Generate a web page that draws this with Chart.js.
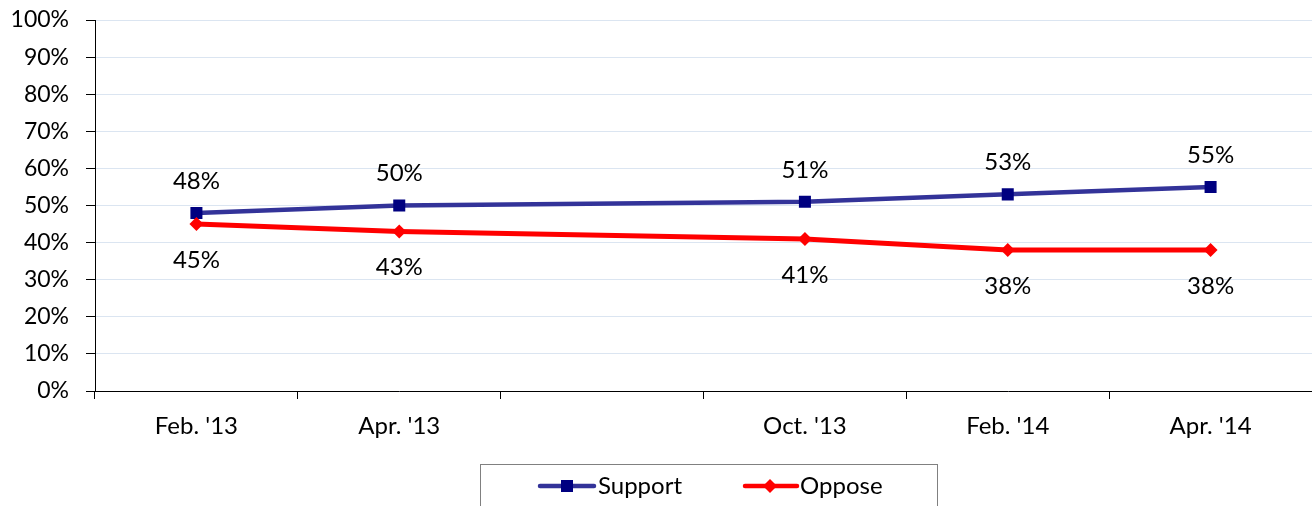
<!DOCTYPE html>
<html>
<head>
<meta charset="utf-8">
<script src="https://cdn.jsdelivr.net/npm/chart.js@4"></script>
<style>
    html, body { margin: 0; padding: 0; background: #fff; }
    #wrap { width: 1312px; height: 506px; }
</style>
</head>
<body>
<div id="wrap"><canvas id="chart"></canvas></div>
<script>
// dados
const categorias = ["Feb. '13", "Apr. '13", "", "Oct. '13", "Feb. '14", "Apr. '14"];
const support = [48, 50, null, 51, 53, 55];
const oppose = [45, 43, null, 41, 38, 38];
const yTicks = [0, 10, 20, 30, 40, 50, 60, 70, 80, 90, 100];

const FONTE = 'Lato, "Open Sans", sans-serif';
const COR_SUPPORT = '#333399';
const COR_SUPPORT_PONTO = '#000080';
const COR_OPPOSE = '#ff0000';

// rótulos de valor (acima para Support, abaixo para Oppose)
const rotulosPlugin = {
    id: 'rotulos',
    afterDatasetsDraw: (chart) => {
        const ctx = chart.ctx;
        ctx.save();
        ctx.font = '24px ' + FONTE;
        ctx.fillStyle = '#000';
        ctx.textAlign = 'center';
        ctx.textBaseline = 'middle';
        chart.data.datasets.forEach((ds, i) => {
            const meta = chart.getDatasetMeta(i);
            const desloc = ds.label === 'Support' ? -32 : 36;
            meta.data.forEach((pt, j) => {
                const v = ds.data[j];
                if (v === null || v === undefined) return;
                ctx.fillText(v + '%', pt.x, pt.y + desloc);
            });
        });
        ctx.restore();
    }
};

// legenda com caixa, linha + marcador
const legendaPlugin = {
    id: 'legendaCaixa',
    afterDraw: (chart) => {
        const ctx = chart.ctx;
        ctx.save();
        ctx.strokeStyle = '#808080';
        ctx.lineWidth = 1;
        ctx.strokeRect(480.5, 464.5, 457, 60);

        const cy = 486;
        // Support
        ctx.strokeStyle = COR_SUPPORT;
        ctx.lineWidth = 4.5;
        ctx.lineCap = 'round';
        ctx.beginPath(); ctx.moveTo(540, cy); ctx.lineTo(594, cy); ctx.stroke();
        ctx.fillStyle = COR_SUPPORT_PONTO;
        ctx.fillRect(561, cy - 6, 12, 12);
        // Oppose
        ctx.strokeStyle = COR_OPPOSE;
        ctx.beginPath(); ctx.moveTo(745, cy); ctx.lineTo(797, cy); ctx.stroke();
        ctx.fillStyle = COR_OPPOSE;
        ctx.beginPath();
        ctx.moveTo(770, cy - 7); ctx.lineTo(777, cy); ctx.lineTo(770, cy + 7); ctx.lineTo(763, cy);
        ctx.closePath(); ctx.fill();

        ctx.font = '24px ' + FONTE;
        ctx.fillStyle = '#000';
        ctx.textAlign = 'left';
        ctx.textBaseline = 'middle';
        ctx.fillText('Support', 598, cy);
        ctx.fillText('Oppose', 800, cy);
        ctx.restore();
    }
};

new Chart(document.getElementById('chart'), {
    type: 'line',
    data: {
        labels: categorias,
        datasets: [
            {
                label: 'Support',
                data: support,
                borderColor: COR_SUPPORT,
                backgroundColor: COR_SUPPORT_PONTO,
                borderWidth: 4.5,
                pointStyle: 'rect',
                pointRadius: 8.5,
                pointBorderWidth: 0,
                pointBackgroundColor: COR_SUPPORT_PONTO,
                spanGaps: true,
                tension: 0,
                order: 1
            },
            {
                label: 'Oppose',
                data: oppose,
                borderColor: COR_OPPOSE,
                backgroundColor: COR_OPPOSE,
                borderWidth: 5,
                pointStyle: 'rectRot',
                pointRadius: 7,
                pointBorderWidth: 0,
                pointBackgroundColor: COR_OPPOSE,
                spanGaps: true,
                tension: 0,
                order: 0
            }
        ]
    },
    options: {
        responsive: true,
        maintainAspectRatio: false,
        animation: false,
        layout: { autoPadding: false, padding: { top: 20, right: 0, bottom: 0, left: 0 } },
        plugins: {
            legend: { display: false },
            tooltip: { enabled: false }
        },
        scales: {
            x: {
                offset: true,
                grid: {
                    offset: true,
                    drawOnChartArea: false,
                    drawTicks: true,
                    tickLength: 8,
                    tickColor: '#000'
                },
                border: { display: true, color: '#000', width: 1 },
                ticks: {
                    color: '#000',
                    font: { family: FONTE, size: 24 },
                    padding: 13,
                    maxRotation: 0,
                    autoSkip: false
                },
                afterFit: (scale) => { scale.height = 115; }
            },
            y: {
                min: 0,
                max: 100,
                afterBuildTicks: (scale) => {
                    scale.ticks = yTicks.map(v => ({ value: v }));
                },
                grid: {
                    color: '#dbe5f1',
                    tickColor: '#000',
                    tickLength: 9,
                    drawTicks: true
                },
                border: { display: true, color: '#000', width: 1 },
                ticks: {
                    color: '#000',
                    font: { family: FONTE, size: 23 },
                    padding: 17,
                    callback: (v) => v + '%'
                },
                afterFit: (scale) => {
                    scale.width = 95;
                    scale.paddingTop = 0;
                    scale.paddingBottom = 0;
                }
            }
        }
    },
    plugins: [rotulosPlugin, legendaPlugin]
});
</script>
</body>
</html>
